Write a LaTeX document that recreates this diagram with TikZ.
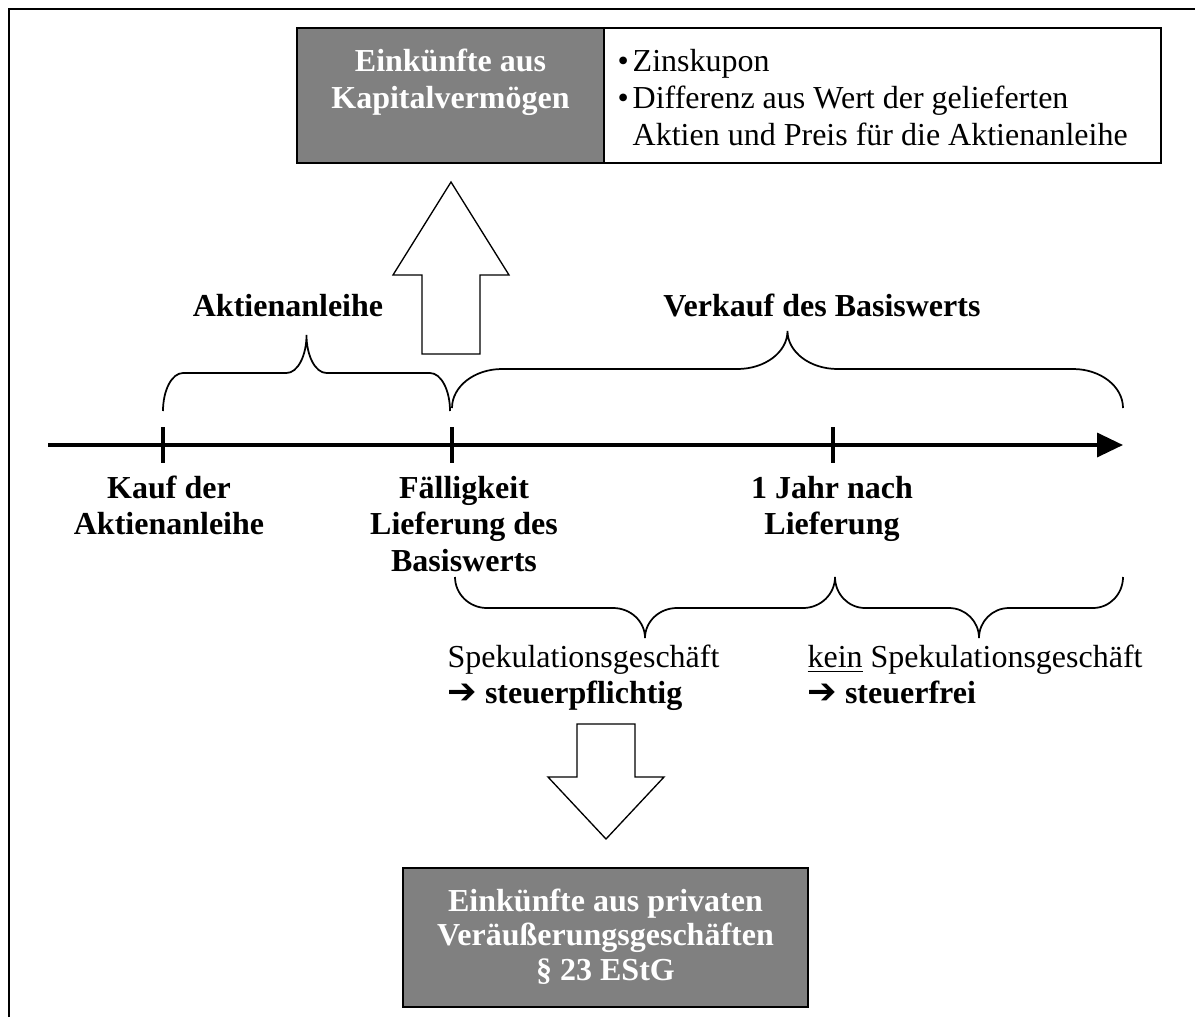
\documentclass[tikz,border=0pt]{standalone}
\usepackage{fontspec}
\setmainfont{Liberation Serif}
\newfontfamily\arrowfont{DejaVu Sans}[Scale=1.1]
\usetikzlibrary{arrows.meta}
\definecolor{boxgray}{HTML}{808080}
\newcommand{\mlines}[2][c]{\begin{tabular}[t]{@{}#1@{}}#2\end{tabular}}
\newcommand{\rarr}{{\arrowfont ➔}}
% x1, x2, y of ends, y of straight part, y of tip, curve width
\newcommand{\wbrace}[6]{%
  \pgfmathsetmacro{\bxm}{(#1+#2)/2}%
  \pgfmathsetmacro{\bk}{0.552}%
  \draw[bracestyle] (#1,#3) .. controls (#1,{#3+\bk*(#4-#3)}) and ({#1+#6-\bk*#6},#4) .. ({#1+#6},#4)
    -- ({\bxm-#6},#4) .. controls ({\bxm-#6+\bk*#6},#4) and (\bxm,{#5+\bk*(#4-#5)}) .. (\bxm,#5)
    .. controls (\bxm,{#5+\bk*(#4-#5)}) and ({\bxm+#6-\bk*#6},#4) .. ({\bxm+#6},#4)
    -- ({#2-#6},#4) .. controls ({#2-#6+\bk*#6},#4) and (#2,{#3+\bk*(#4-#3)}) .. (#2,#3);
}
\tikzset{
  every node/.style={inner sep=0pt, font=\fontsize{12}{13.8}\selectfont},
  boxline/.style={draw=black, line width=0.5pt},
  bracestyle/.style={line width=0.65pt},
  blockarrow/.style={draw=black, line width=0.5pt, fill=white, line join=miter},
  axisline/.style={line width=1.3pt},
  boldlbl/.style={font=\fontsize{12}{13.8}\selectfont\bfseries},
  whitelbl/.style={font=\fontsize{12}{13.1}\selectfont\bfseries, text=white},
}
\begin{document}
\begin{tikzpicture}[x=0.375pt, y=-0.375pt]
\useasboundingbox (0,0) rectangle (1195,1017);
% frame
\draw[line width=1.1pt] (9,1017) -- (9,9) -- (1195,9);

% top boxes
\node[boxline, fill=boxgray, minimum width=115.1pt, minimum height=50.6pt] (kapbox) at (450.5,95.5) {};
\node[boxline, fill=white, minimum width=208.9pt, minimum height=50.6pt] (listbox) at (882.5,95.5) {};
\node[anchor=base, font=\fontsize{12}{13.8}\selectfont\bfseries, text=white] (kaptext) at (450.5,72)
  {\mlines{Einkünfte aus\\Kapitalvermögen}};
\node[anchor=base west] (listtext) at (617,72)
  {\begin{tabular}[t]{@{}l@{\hspace{1.5pt}}l@{}}•&Zinskupon\\•&Differenz aus Wert der gelieferten\\&Aktien und Preis für die Aktienanleihe\end{tabular}};

% up block arrow
\draw[blockarrow] (451,182) -- (509,275) -- (480,275) -- (480,354) -- (422,354) -- (422,275) -- (393,275) -- cycle;

% upper labels
\node[boldlbl, anchor=base] (aktlbl) at (288,316) {Aktienanleihe};
\node[boldlbl, anchor=base] (verklbl) at (822,316) {Verkauf des Basiswerts};

% upper braces
\wbrace{163}{450}{411}{373}{335}{20}
\wbrace{452}{1123}{408}{369}{331}{50}

% timeline
\coordinate (tstart) at (48,445);
\coordinate (tend) at (1123,445);
\draw[axisline, -{Triangle[length=9.75pt, width=9pt]}] (tstart) -- (tend);
\foreach \tx/\tn in {163/ta, 452/tb, 833/tc}{
  \coordinate (\tn top) at (\tx,427);
  \coordinate (\tn bot) at (\tx,463);
  \draw[axisline] (\tn top) -- (\tn bot);
}

% timeline labels
\node[boldlbl, anchor=base] (kauf) at (169,498) {\mlines{Kauf der\\Aktienanleihe}};
\node[boldlbl, anchor=base] (faell) at (464,498) {\mlines{Fälligkeit\\Lieferung des\\Basiswerts}};
\node[boldlbl, anchor=base] (jahr) at (832,498) {\mlines{1 Jahr nach\\Lieferung}};

% lower braces
\wbrace{455}{835}{577}{608}{638}{32}
\wbrace{835}{1123}{577}{608}{638}{30}

% lower labels
\node[anchor=base west] (spek) at (447,667) {\mlines[l]{Spekulationsgeschäft\\\rarr\ \textbf{steuerpflichtig}}};
\node[anchor=base west] (keinspek) at (807,667) {\mlines[l]{\underline{kein} Spekulationsgeschäft\\\rarr\ \textbf{steuerfrei}}};

% down block arrow
\draw[blockarrow] (577,724) -- (635,724) -- (635,777) -- (664,777) -- (606,839) -- (548,777) -- (577,777) -- cycle;

% bottom box
\node[boxline, fill=boxgray, minimum width=151.9pt, minimum height=52.1pt] (privbox) at (605.5,937.5) {};
\node[whitelbl, anchor=base] (privtext) at (605.5,911)
  {\mlines{Einkünfte aus privaten\\Veräußerungsgeschäften\\§ 23 EStG}};
\end{tikzpicture}
\end{document}
